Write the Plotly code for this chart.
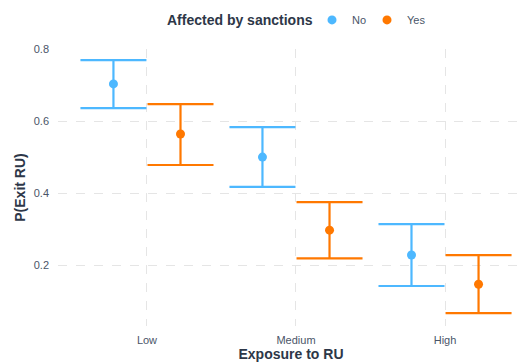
import plotly.graph_objects as go

# Predicted probability of exiting Russia by exposure level and sanction status
exposure = ["Low", "Medium", "High"]
groups = ["No", "Yes"]
estimate = {"No": [0.703, 0.500, 0.228], "Yes": [0.564, 0.297, 0.147]}
lower = {"No": [0.636, 0.417, 0.142], "Yes": [0.478, 0.219, 0.067]}
upper = {"No": [0.769, 0.583, 0.314], "Yes": [0.647, 0.375, 0.228]}

colors = {"No": "#4DB8FF", "Yes": "#FF7800"}
dodge = {"No": -0.225, "Yes": 0.225}
legend_ref = {"No": "legend", "Yes": "legend2"}

fig = go.Figure()
for g in groups:
    xs = [i + dodge[g] for i in range(len(exposure))]
    est = estimate[g]
    fig.add_trace(go.Scatter(
        x=xs, y=est, mode="markers", name=g, legend=legend_ref[g],
        marker=dict(color=colors[g], size=9),
        error_y=dict(
            type="data", symmetric=False,
            array=[u - e for u, e in zip(upper[g], est)],
            arrayminus=[e - l for e, l in zip(est, lower[g])],
            color=colors[g], thickness=2.2, width=33,
        ),
    ))

font = "Liberation Sans, Arial, sans-serif"
fig.add_annotation(
    text="<b>Affected by sanctions</b>", xref="paper", yref="paper",
    x=(240 - 58) / 466, y=1.105, xanchor="center", yanchor="middle",
    showarrow=False, font=dict(size=14, color="#2D3748"),
)
legend_style = dict(orientation="h", xanchor="left", y=1.105, yanchor="middle",
                    font=dict(size=11, color="#4A5568"), itemwidth=30)
fig.update_layout(
    width=524, height=362,
    margin=dict(l=58, r=0, t=49, b=36),
    plot_bgcolor="white", paper_bgcolor="white",
    font=dict(family=font, color="#4A5568", size=11),
    showlegend=True,
    legend=dict(x=(312 - 58) / 466, **legend_style),
    legend2=dict(x=(367 - 58) / 466, **legend_style),
    xaxis=dict(
        tickmode="array", tickvals=list(range(len(exposure))), ticktext=exposure,
        range=[-0.597, 2.53], showgrid=True, gridcolor="#E5E5E5", griddash="dash",
        gridwidth=1, zeroline=False, showline=False, ticks="",
        ticklabelstandoff=6,
        title=dict(text="<b>Exposure to RU</b>", font=dict(size=14, color="#2D3748"),
                   standoff=2),
    ),
    yaxis=dict(
        range=[0.031, 0.8], tickvals=[0.2, 0.4, 0.6, 0.8],
        ticktext=["0.2", "0.4", "0.6", "0.8"],
        showgrid=True, gridcolor="#E5E5E5", griddash="dash", gridwidth=1,
        zeroline=False, showline=False, ticks="",
        ticklabelstandoff=8,
        title=dict(text="<b>P(Exit RU)</b>", font=dict(size=14, color="#2D3748"),
                   standoff=4),
    ),
)

fig.write_html("out.html")
